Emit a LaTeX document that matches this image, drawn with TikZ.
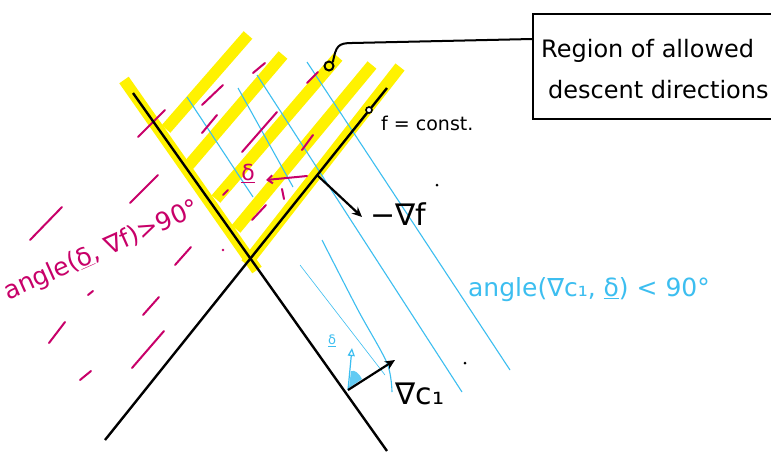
\documentclass[tikz,border=0pt]{standalone}
\usepackage{fontspec}
\setmainfont{DejaVu Sans}
\usetikzlibrary{arrows.meta}
\definecolor{hl}{RGB}{255,242,0}
\definecolor{mg}{RGB}{200,0,105}
\definecolor{cy}{RGB}{60,190,240}
\begin{document}
\begin{tikzpicture}[x=1pt,y=-1pt,
  ylw/.style={line width=11.5pt, draw=hl},
  mgd/.style={line width=2pt, draw=mg, line cap=round},
  cyl/.style={line width=1.1pt, draw=cy},
  blk/.style={line width=2.4pt, draw=black},
  arr/.style={line width=2.2pt, -{Stealth[length=10pt,width=9pt]}},
  lbl/.style={inner sep=0pt}]
\clip (0,0) rectangle (771,451);
\fill[white] (0,0) rectangle (771,451);
% key points
\coordinate (A1) at (133,93);
\coordinate (A2) at (387,451);
\coordinate (B1) at (387,88);
\coordinate (B2) at (105,440);
% yellow stripes
\draw[ylw] (124,80) -- (257,270);
\draw[ylw] (246,264) -- (400,67);
\draw[ylw] (166,129) -- (248,35);
\draw[ylw] (189,165) -- (283,55);
\draw[ylw] (216,199) -- (338,57);
\draw[ylw] (236,229) -- (372,65);
% cyan lines
\draw[cyl] (187,97) -- (253,197);
\draw[cyl] (238,88) -- (293,187);
\draw[cyl] (257,75) -- (462,392);
\draw[cyl] (307,62) -- (510,370);
\draw[cyl] plot[smooth] coordinates {(322,240) (358,310) (387,363) (392,392)};
\draw[draw=cy, line width=0.6pt] (300,265) -- (385,375);
% magenta dashes (inside region)
\draw[mgd] (202,105) -- (223,85);
\draw[mgd] (202,133) -- (217,115);
\draw[mgd] (253,73) -- (265,63);
\draw[mgd] (242,152) -- (277,112);
\draw[mgd] (307,83) -- (318,72);
\draw[mgd] (302,150) -- (313,135);
\draw[mgd] (223,195) -- (228,190);
\draw[mgd] (252,220) -- (266,205);
\draw[mgd] (138,137) -- (165,110);
% magenta dashes (left)
\draw[mgd] (30,240) -- (62,207);
\draw[mgd] (130,203) -- (158,175);
\draw[mgd] (175,265) -- (191,247);
\draw[mgd] (88,295) -- (93,291);
\draw[mgd] (143,315) -- (159,297);
\draw[mgd] (49,343) -- (65,322);
\draw[mgd] (132,368) -- (164,331);
\draw[mgd] (80,380) -- (91,371);
\fill[mg] (223,250) circle (1.3pt);
% magenta delta vector
\coordinate (ds) at (307,176);
\coordinate (de) at (266,180);
\draw[mgd, -{Straight Barb[length=5pt,width=8pt]}] (ds) -- (de);
\draw[mgd] (282,189) -- (284,199);
\node[lbl, text=mg, font=\fontsize{22}{24}\selectfont] (dm) at (248,173) {\underline{δ}};
% black lines
\draw[blk] (A1) -- (A2);
\draw[blk] (B1) -- (B2);
% f = const
\node[circle, draw, line width=1.6pt, inner sep=0pt, minimum size=6pt, fill=white] (fc) at (369,110) {};
\node[lbl, anchor=west, font=\fontsize{19}{22}\selectfont] (fl) at (381,123) {f = const.};
% leader to box
\node[circle, draw, line width=2pt, inner sep=0pt, minimum size=9pt] (mk) at (329,66) {};
\node[draw, line width=2pt, anchor=north west, minimum width=300pt, minimum height=105pt, inner sep=0pt] (box) at (532,13) {};
\coordinate (boxin) at (532,39);
\draw[line width=2pt] (mk.north east) .. controls (336,46) and (338,43) .. (352,43) -- (boxin);
\node[lbl, anchor=base west, font=\fontsize{24}{26}\selectfont] (bt1) at (541,57) {Region of allowed};
\node[lbl, anchor=base west, font=\fontsize{24}{26}\selectfont] (bt2) at (548,98) {descent directions};
% grad f
\coordinate (fp) at (317,175);
\coordinate (fe) at (362,217);
\draw[arr] (fp) -- (fe);
\node[lbl, font=\fontsize{30}{32}\selectfont] (gf) at (398,214) {−∇f};
% grad c1 and delta
\coordinate (cb) at (348,390);
\coordinate (ce) at (395,360);
\coordinate (dt) at (352,348);
\fill[cy!80] (349,388) -- (351,371) .. controls (355,370) and (359,373) .. (362,379) -- cycle;
\draw[draw=cy, line width=1.2pt, -{Triangle[open,length=8pt,width=7pt]}] (cb) -- (dt);
\draw[arr] (cb) -- (ce);
\node[lbl, font=\fontsize{30}{32}\selectfont] (gc) at (420,394) {∇c₁};
\node[lbl, text=cy, font=\fontsize{13}{15}\selectfont] (dc) at (332,341) {\underline{δ}};
% dots
\fill (437,185) circle (1.5pt);
\fill (465,363) circle (1.5pt);
% angle texts
\node[lbl, text=mg, rotate=24, font=\fontsize{25}{28}\selectfont] (ma) at (102,251) {angle(\underline{δ}, ∇f)>90°};
\node[lbl, text=cy, font=\fontsize{25}{28}\selectfont] (ca) at (589,290) {angle(∇c₁, \underline{δ}) < 90°};
\end{tikzpicture}
\end{document}
